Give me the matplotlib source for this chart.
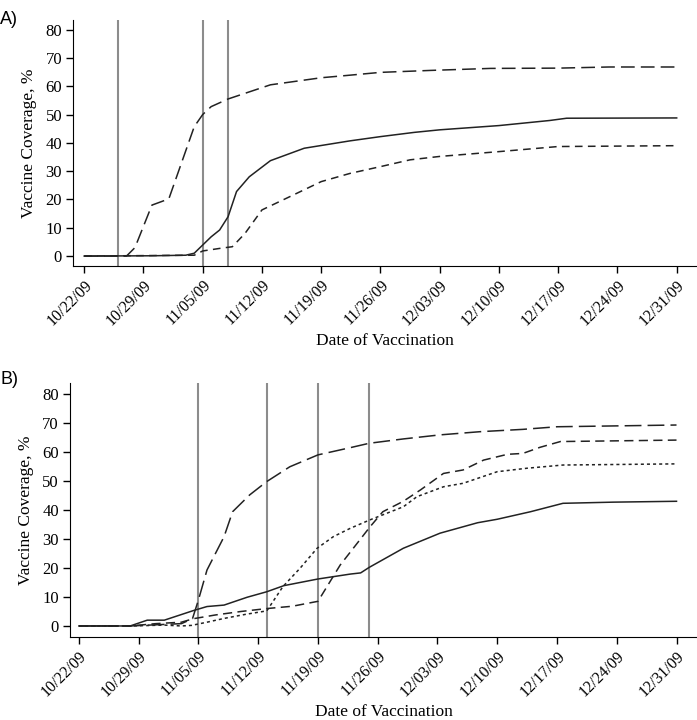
import pandas as pd
import matplotlib
matplotlib.use("Agg")
import matplotlib.pyplot as plt

start = pd.Timestamp("2009-10-22")

tick_labels = ["10/22/09", "10/29/09", "11/05/09", "11/12/09", "11/19/09", "11/26/09",
               "12/03/09", "12/10/09", "12/17/09", "12/24/09", "12/31/09"]
y_ticks = [0, 10, 20, 30, 40, 50, 60, 70, 80]

# panel A (days after 10/22/09, coverage %)
a_long_days = [0, 5, 6, 8, 10, 13, 14, 15, 17, 22, 28, 31, 35, 41, 48, 56, 62, 70]
a_long_vals = [0, 0, 3, 18, 20.2, 45.7, 50, 52.8, 55.5, 60.5, 63, 63.8, 64.9, 65.6, 66.3, 66.4, 66.8, 66.8]

a_solid_days = [0, 8, 12, 13, 14, 15, 16, 17, 18, 19.5, 22, 26, 31.4, 35, 39, 42, 49, 55, 57, 70]
a_solid_vals = [0, 0.1, 0.3, 1, 3.9, 6.8, 9.2, 13.9, 22.8, 28, 33.7, 38.1, 40.7, 42.2, 43.7, 44.6, 46.1, 47.9, 48.7, 48.8]

a_short_days = [0, 13, 14, 16, 17.5, 19, 21, 24.3, 28, 31.4, 35, 38.5, 42, 49, 56, 70]
a_short_vals = [0, 0.3, 1.8, 2.7, 3.3, 8, 16.3, 21, 26.3, 29.2, 31.6, 34, 35.2, 36.9, 38.7, 39]

a_vlines = [4, 14, 17]

# panel B
b_long_days = [0, 6, 12, 13.3, 14, 15, 17, 18, 20, 22, 24.7, 28, 31.8, 34, 38, 42.3, 47, 52, 56, 70]
b_long_vals = [0, 0, 0.8, 2.5, 9, 19.3, 30.8, 39.4, 45.2, 49.8, 54.9, 59, 61.5, 63, 64.5, 65.9, 67, 67.8, 68.7, 69.3]

b_solid_days = [0, 6, 8, 10, 13.4, 15, 17, 19.7, 22, 24, 28, 31.8, 33, 34, 38, 42.3, 46.7, 49, 52.9, 56.7, 62.6, 70]
b_solid_vals = [0, 0, 2, 2, 5.3, 6.7, 7.2, 9.9, 11.8, 13.9, 16.2, 17.9, 18.3, 20.2, 26.8, 32, 35.6, 36.8, 39.4, 42.3, 42.7, 43]

b_mid_days = [0, 6, 9, 12, 13.4, 16, 19, 22, 25, 28, 30.6, 34.1, 35.6, 38, 40, 42.7, 45, 47.4, 50.2, 52, 54, 56.4, 70]
b_mid_vals = [0, 0, 0.8, 1.3, 2.5, 3.8, 5, 6, 6.8, 8.5, 21, 34.2, 39.4, 43, 46.9, 52.6, 53.8, 57.2, 59.2, 59.5, 61.6, 63.6, 64.1]

b_dot_days = [0, 6, 10, 12, 13.2, 15, 17, 19.5, 22, 23.9, 25.9, 27.9, 29.8, 31.8, 34.1, 38, 39.6, 42.7, 45, 49, 52.5, 56.7, 70]
b_dot_vals = [0, 0, 0.3, 0, 0.2, 1.3, 2.6, 4, 5.2, 13.6, 19.9, 26.8, 30.8, 33.7, 36.6, 41.1, 44.6, 48, 49.2, 53.2, 54.4, 55.5, 55.9]

b_vlines = [14, 22, 28, 34]


def to_dates(days):
    return start + pd.to_timedelta(days, unit="D")


plt.rcParams["font.family"] = ["Liberation Serif", "DejaVu Serif"]
line_color = "#222222"
vline_color = "#8c8c8c"

fig = plt.figure(figsize=(6.97, 7.2), dpi=100)
ax_a = fig.add_axes([0.105, 0.6306, 0.895, 0.342])
ax_b = fig.add_axes([0.1004, 0.1153, 0.8996, 0.3528])


def style_axis(ax, xlim, ylim):
    ax.spines["top"].set_visible(False)
    ax.spines["right"].set_visible(False)
    ax.set_xlim(to_dates([xlim[0]])[0], to_dates([xlim[1]])[0])
    ax.set_ylim(*ylim)
    ax.set_yticks(y_ticks)
    ax.set_yticklabels([str(v) for v in y_ticks], fontsize=12)
    ax.set_xticks(to_dates(list(range(0, 71, 7))))
    ax.set_xticklabels(tick_labels, rotation=45, ha="right", rotation_mode="anchor", fontsize=11.5)
    ax.tick_params(direction="out", length=5, width=1, pad=3)
    ax.set_ylabel("Vaccine Coverage, %", fontsize=12.5, labelpad=6)
    ax.set_xlabel("Date of Vaccination", fontsize=12.5, labelpad=3)


# A)
for d in a_vlines:
    ax_a.axvline(to_dates([d])[0], color=vline_color, lw=1.5, zorder=1)
ax_a.plot(to_dates(a_long_days), a_long_vals, color=line_color, lw=1.1, dashes=(9, 4))
ax_a.plot(to_dates(a_solid_days), a_solid_vals, color=line_color, lw=1.1)
ax_a.plot(to_dates(a_short_days), a_short_vals, color=line_color, lw=1.1, dashes=(5, 3.5))
style_axis(ax_a, (-1.3, 72.4), (-3.5, 83.5))

# B)
for d in b_vlines:
    ax_b.axvline(to_dates([d])[0], color=vline_color, lw=1.5, zorder=1)
ax_b.plot(to_dates(b_long_days), b_long_vals, color=line_color, lw=1.1, dashes=(11, 4))
ax_b.plot(to_dates(b_solid_days), b_solid_vals, color=line_color, lw=1.1)
ax_b.plot(to_dates(b_mid_days), b_mid_vals, color=line_color, lw=1.1, dashes=(6, 3.5))
ax_b.plot(to_dates(b_dot_days), b_dot_vals, color=line_color, lw=1.1, dashes=(2, 2))
style_axis(ax_b, (-1.05, 72.4), (-3.8, 83.8))

fig.text(0.0, 0.985, "A)", family="Liberation Sans", fontsize=13, va="top", ha="left")
fig.text(0.0, 0.485, "B)", family="Liberation Sans", fontsize=13, va="top", ha="left")

fig.savefig("out.png", dpi=100)
